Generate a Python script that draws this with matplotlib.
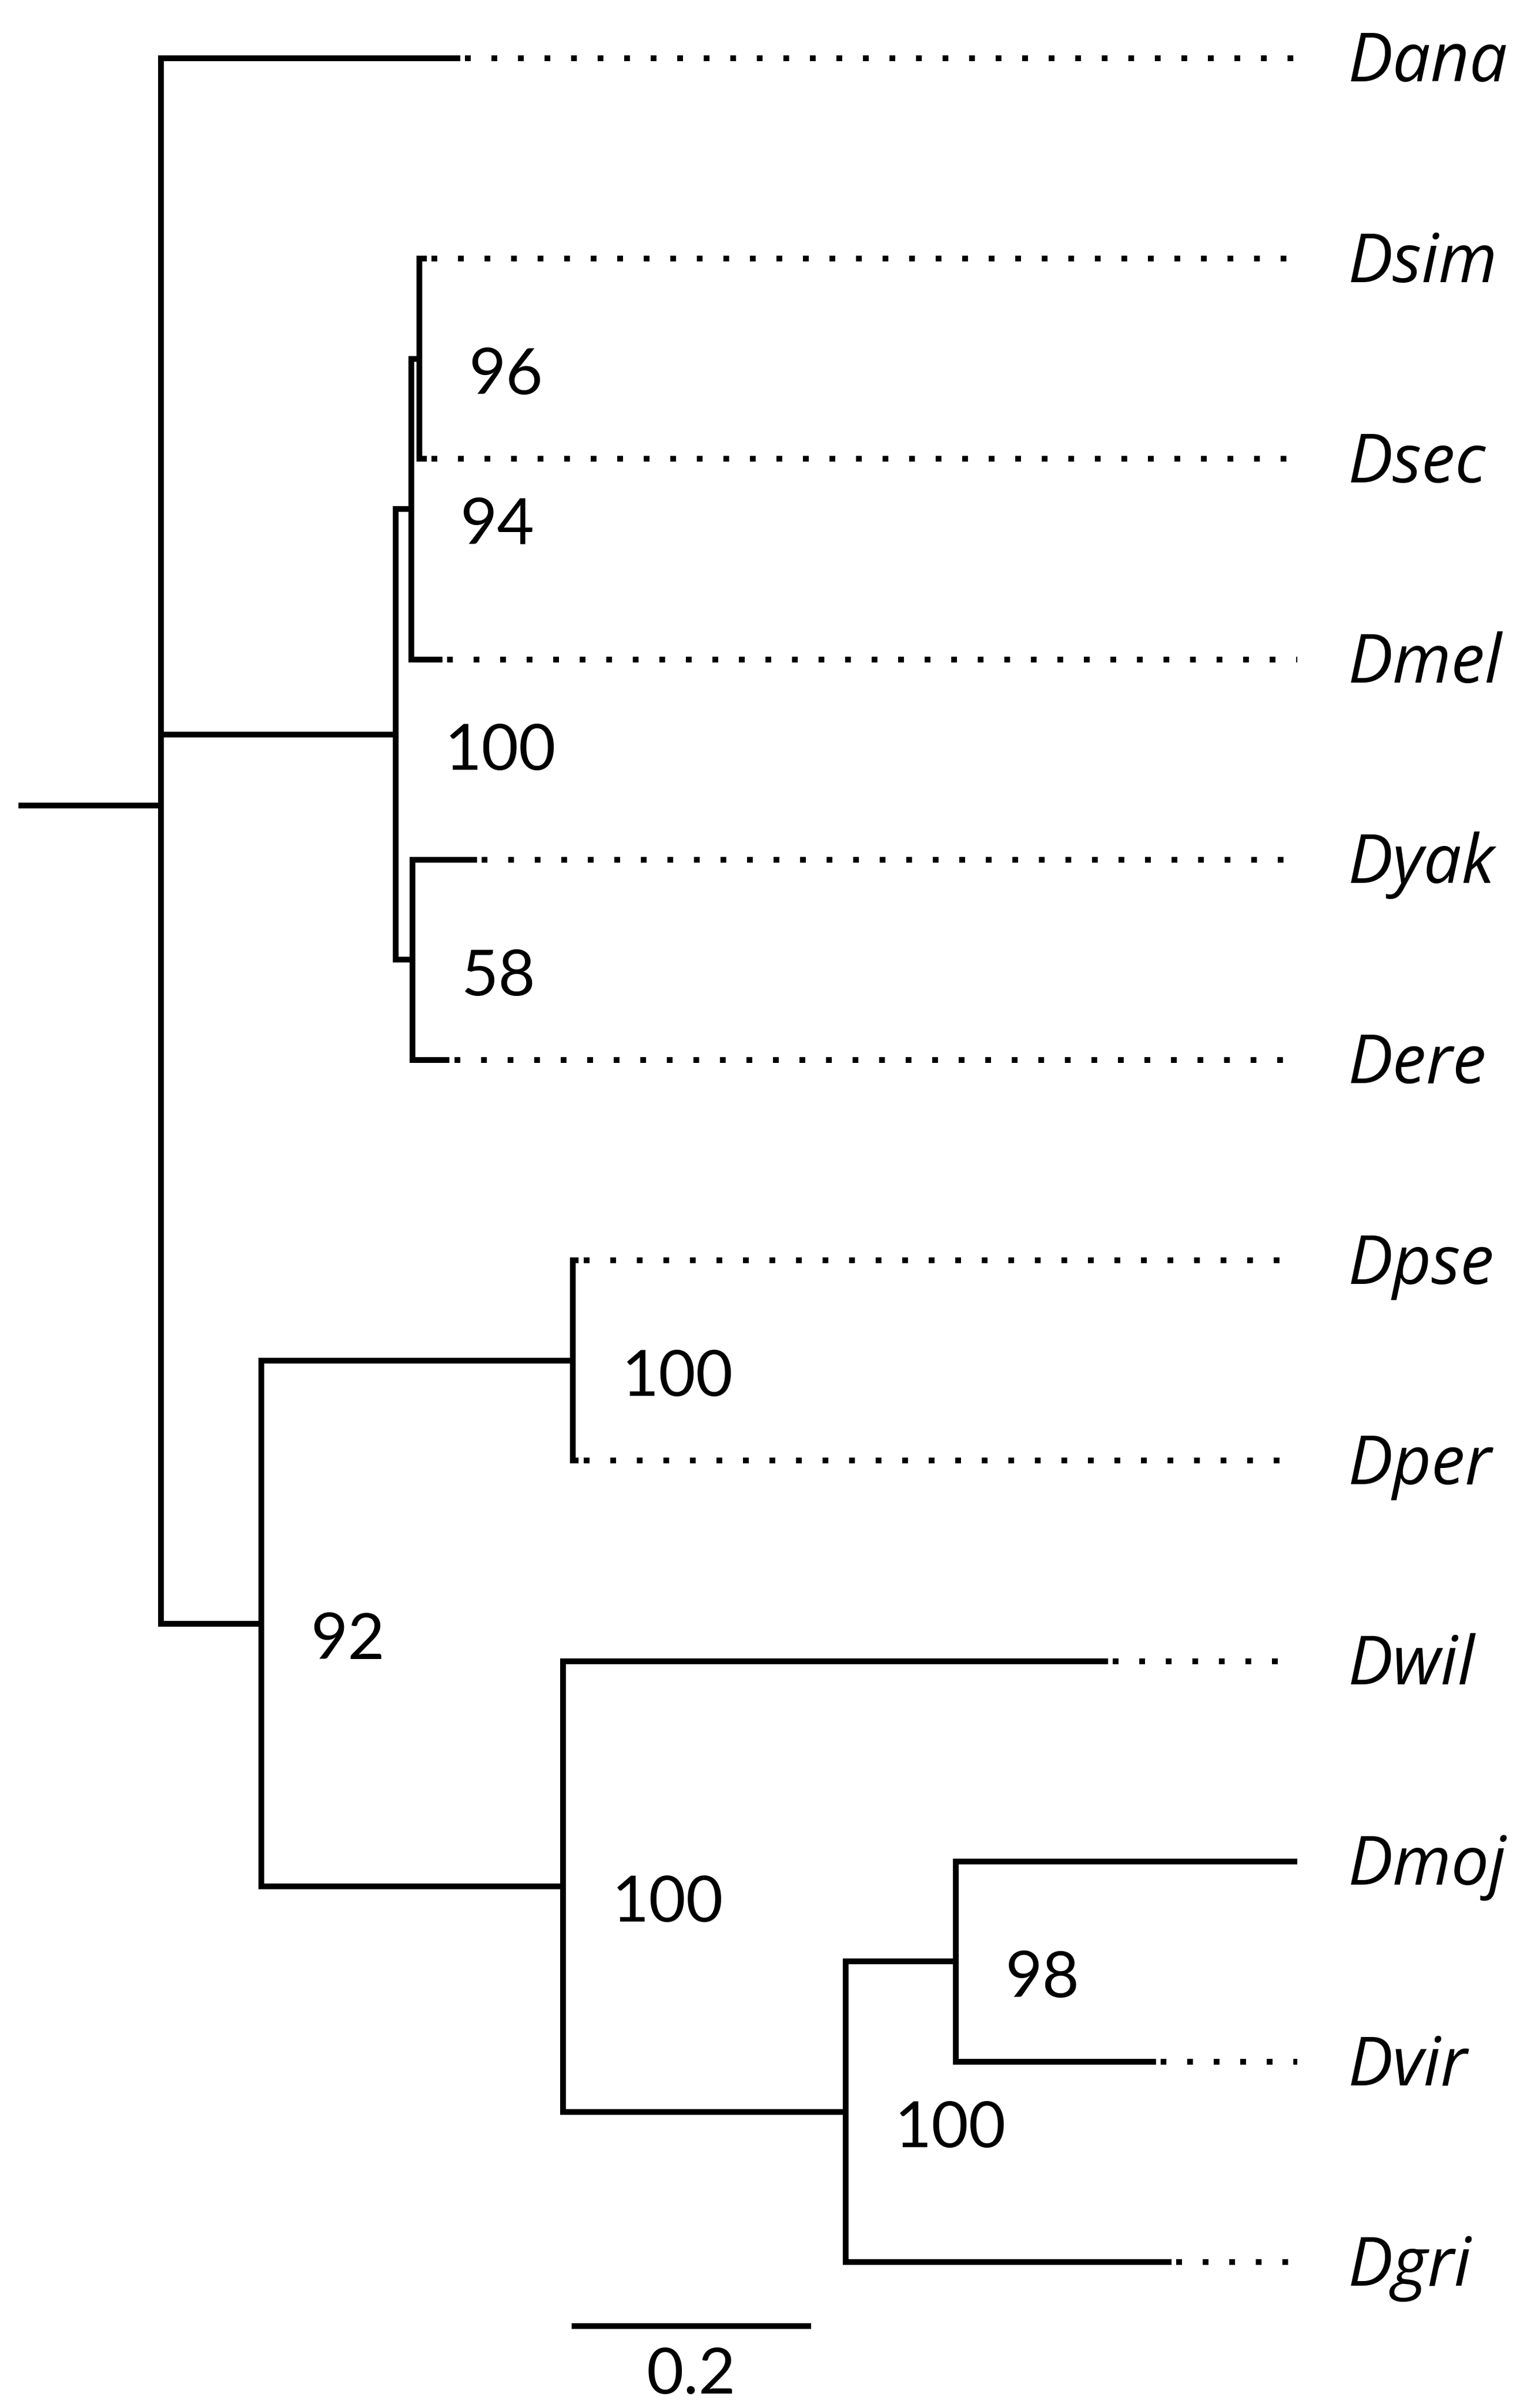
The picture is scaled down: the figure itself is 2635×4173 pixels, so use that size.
import matplotlib
matplotlib.use("Agg")
import matplotlib.pyplot as plt

# tips, top to bottom; distance from root (substitutions/site)
taxa = ["Dana", "Dsim", "Dsec", "Dmel", "Dyak", "Dere",
        "Dpse", "Dper", "Dwil", "Dmoj", "Dvir", "Dgri"]
tip_x = [0.369, 0.341, 0.341, 0.354, 0.383, 0.360,
         0.468, 0.468, 0.910, 1.068, 0.950, 0.963]

# internal nodes: name, distance from root, children, bootstrap
node_names = ["simsec", "mel3", "yakere", "melgrp", "obs", "mojvir",
              "repleta", "virgrp", "sophoph", "root"]
node_x = [0.335, 0.328, 0.329, 0.315, 0.463, 0.783,
          0.691, 0.455, 0.203, 0.119]
node_children = [["Dsim", "Dsec"], ["simsec", "Dmel"], ["Dyak", "Dere"],
                 ["mel3", "yakere"], ["Dpse", "Dper"], ["Dmoj", "Dvir"],
                 ["mojvir", "Dgri"], ["Dwil", "repleta"], ["obs", "virgrp"],
                 ["Dana", "melgrp", "sophoph"]]
bootstrap = [96, 94, 58, 100, 100, 98, 100, 100, 92, None]

dot_end = 1.068
label_x = 1.110
scale_len = 0.2
scale_x0 = 0.462

LW = 7.2
TXT = 80
FONT = ["Lato", "DejaVu Sans"]
TAXON_FONT = ["Open Sans", "DejaVu Sans"]

pos = {}
for i, t in enumerate(taxa):
    pos[t] = (tip_x[i], float(i))
for name, x, kids in zip(node_names, node_x, node_children):
    ys = [pos[k][1] for k in kids]
    pos[name] = (x, sum(ys) / len(ys))

fig = plt.figure(figsize=(26.35, 41.73), dpi=100)
ax = fig.add_axes([0, 0, 1, 1])

line_kw = dict(color="black", lw=LW, solid_joinstyle="miter",
               solid_capstyle="butt")

for name, x, kids, bs in zip(node_names, node_x, node_children, bootstrap):
    _, y = pos[name]
    first, last = pos[kids[0]], pos[kids[-1]]
    ax.plot([first[0], x, x, last[0]], [first[1], first[1], last[1], last[1]],
            **line_kw)
    for k in kids[1:-1]:
        kx, ky = pos[k]
        ax.plot([x, kx], [ky, ky], **line_kw)
    if bs is not None:
        ax.annotate(str(bs), (x, y), xytext=(61, -44), textcoords="offset points",
                    ha="left", va="baseline", fontsize=TXT, family=FONT)

# root stem
rx, ry = pos["root"]
ax.plot([0, rx], [ry, ry], **line_kw)

# dotted leaders and tip labels
for i, t in enumerate(taxa):
    x, y = pos[t]
    if x < dot_end - 0.01:
        ax.plot([x + 0.004, dot_end], [y, y], color="black", lw=LW,
                linestyle=(0, (1.0, 3.6)), dash_capstyle="butt")
    ax.annotate(t, (label_x, y), xytext=(0, -29), textcoords="offset points",
                ha="left", va="baseline", fontsize=84, fontstyle="italic",
                family=TAXON_FONT)

# scale bar
sy = 11.32
ax.plot([scale_x0, scale_x0 + scale_len], [sy, sy], **line_kw)
ax.annotate(str(scale_len), (scale_x0 + scale_len / 2, sy), xytext=(0, -84),
            textcoords="offset points", ha="center", va="baseline",
            fontsize=TXT, family=FONT)

ax.set_xlim(-0.0154, 1.254)
ax.set_ylim(11.728, -0.291)
ax.axis("off")

fig.savefig("out.png", dpi=100, facecolor="white")
